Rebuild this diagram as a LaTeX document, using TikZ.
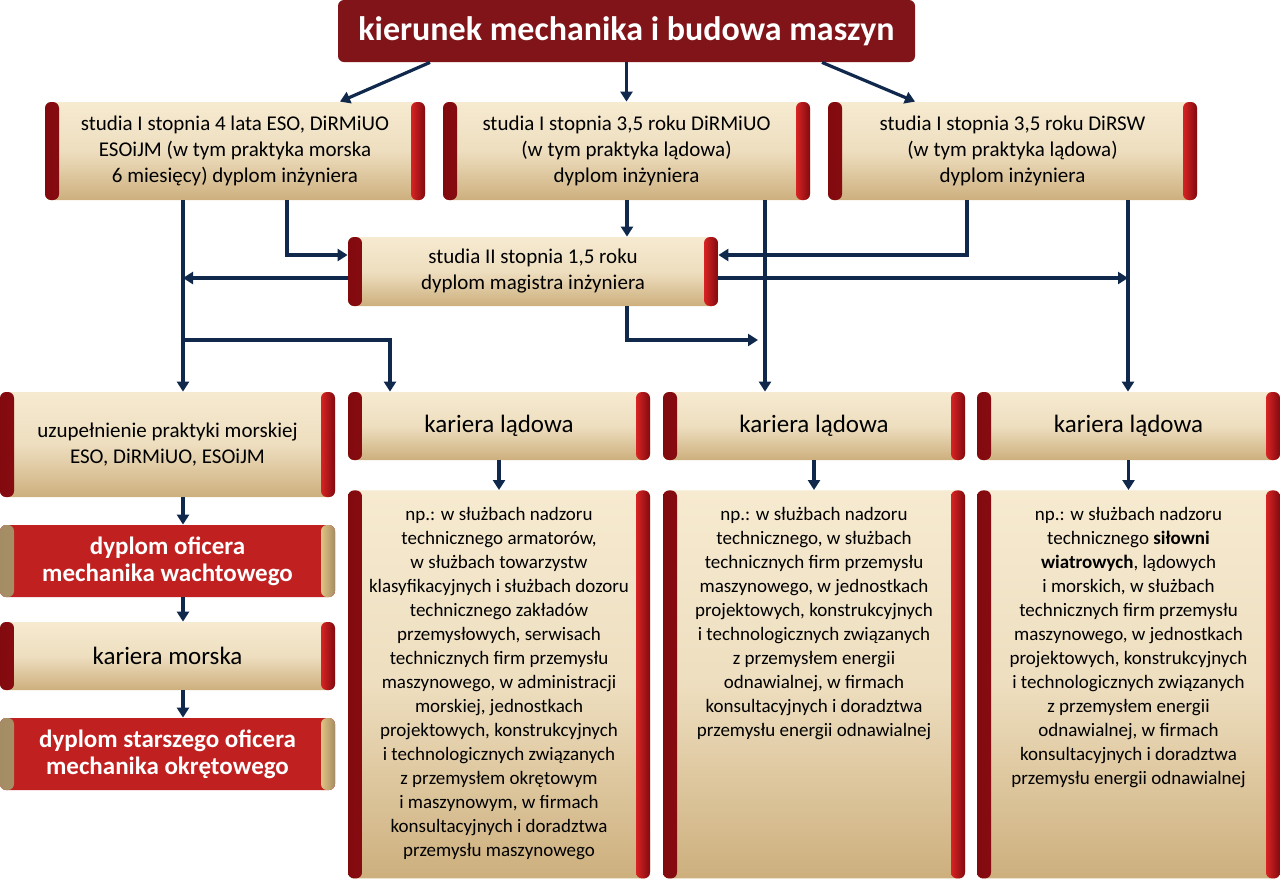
\documentclass[tikz,border=0pt]{standalone}
\usepackage{fontspec}
\setmainfont{Carlito}
\usetikzlibrary{arrows.meta}

\definecolor{capred}{RGB}{215,35,35}
\definecolor{capdark}{RGB}{130,10,15}
\definecolor{tanlight}{RGB}{246,234,208}
\definecolor{tandark}{RGB}{205,175,125}
\definecolor{headred}{RGB}{128,20,25}
\definecolor{navy}{RGB}{15,40,75}
\definecolor{goldcap}{RGB}{225,195,130}

\tikzset{
  box/.style={rectangle, rounded corners=3pt, align=center, inner sep=2pt,
    top color=tanlight, bottom color=tandark, middle color=tanlight!80!tandark,
    path picture={
      \shade[left color=capdark, right color=capred]
        (path picture bounding box.south west) rectangle ([xshift=7pt]path picture bounding box.north west);
      \shade[left color=capred, right color=capdark]
        ([xshift=-7pt]path picture bounding box.south east) rectangle (path picture bounding box.north east);
    }},
  redbox/.style={rectangle, rounded corners=3pt, align=center, inner sep=2pt,
    fill=capred!90!black, text=white, font=\bfseries\fontsize{12.5}{13.5}\selectfont,
    path picture={
      \shade[left color=tandark!80!black, right color=goldcap]
        (path picture bounding box.south west) rectangle ([xshift=7pt]path picture bounding box.north west);
      \shade[left color=goldcap, right color=tandark!80!black]
        ([xshift=-7pt]path picture bounding box.south east) rectangle (path picture bounding box.north east);
    }},
  txt/.style={font=\fontsize{9.5}{12}\selectfont},
  arr/.style={draw=navy, line width=1.6pt, -{Triangle[length=5pt,width=6pt]}},
  ln/.style={draw=navy, line width=1.6pt}
}

\begin{document}
\begin{tikzpicture}[x=0.5pt, y=-0.5pt]
  \useasboundingbox (0,0) rectangle (1280,880);

  % Top
  \node[rectangle, rounded corners=3pt, fill=headred, text=white, font=\bfseries\fontsize{17}{19}\selectfont,
    minimum width=288.5pt, minimum height=31pt] (kier) at (626.5,31) {kierunek mechanika i budowa maszyn};

  % First degree
  \node[box, font=\fontsize{10.5}{13}\selectfont, minimum width=190pt, minimum height=49pt] (s1a) at (235,151)
    {studia I stopnia 4 lata ESO, DiRMiUO\\ESOiJM (w tym praktyka morska\\6 miesięcy) dyplom inżyniera};
  \node[box, font=\fontsize{10.5}{13}\selectfont, minimum width=183.5pt, minimum height=49pt] (s1b) at (626.5,151)
    {studia I stopnia 3,5 roku DiRMiUO\\(w tym praktyka lądowa)\\dyplom inżyniera};
  \node[box, font=\fontsize{10.5}{13}\selectfont, minimum width=184.5pt, minimum height=49pt] (s1c) at (1012.5,151)
    {studia I stopnia 3,5 roku DiRSW\\(w tym praktyka lądowa)\\dyplom inżyniera};

  % Second degree
  \node[box, font=\fontsize{10.5}{13}\selectfont, minimum width=185pt, minimum height=34.5pt] (s2) at (533,271.5)
    {studia II stopnia 1,5 roku\\dyplom magistra inżyniera};

  % Careers
  \node[box, font=\fontsize{10.5}{13}\selectfont, minimum width=167.5pt, minimum height=52.5pt] (uzup) at (167.5,444.5)
    {uzupełnienie praktyki morskiej\\ESO, DiRMiUO, ESOiJM};
  \node[box, font=\fontsize{12.5}{14}\selectfont, minimum width=151pt, minimum height=34pt] (kl1) at (499,426) {kariera lądowa};
  \node[box, font=\fontsize{12.5}{14}\selectfont, minimum width=151pt, minimum height=34pt] (kl2) at (814,426) {kariera lądowa};
  \node[box, font=\fontsize{12.5}{14}\selectfont, minimum width=151.5pt, minimum height=34pt] (kl3) at (1128.5,426) {kariera lądowa};

  \node[redbox, minimum width=167.5pt, minimum height=36pt] (dow) at (167.5,561) {dyplom oficera\\mechanika wachtowego};
  \node[box, font=\fontsize{12.5}{14}\selectfont, minimum width=167.5pt, minimum height=34pt] (km) at (167.5,656) {kariera morska};
  \node[redbox, minimum width=167.5pt, minimum height=36pt] (dso) at (167.5,754) {dyplom starszego oficera\\mechanika okrętowego};

  % Descriptions
  \node[box, anchor=north, minimum width=151pt, minimum height=194pt] (op1) at (499,490) {};
  \node[txt, align=center, anchor=north] at (499,500)
    {np.: w służbach nadzoru\\technicznego armatorów,\\w służbach towarzystw\\klasyfikacyjnych i służbach dozoru\\technicznego zakładów\\przemysłowych, serwisach\\technicznych firm przemysłu\\maszynowego, w administracji\\morskiej, jednostkach\\projektowych, konstrukcyjnych\\i technologicznych związanych\\z przemysłem okrętowym\\i maszynowym, w firmach\\konsultacyjnych i doradztwa\\przemysłu maszynowego};
  \node[box, anchor=north, minimum width=151pt, minimum height=194pt] (op2) at (814,490) {};
  \node[txt, align=center, anchor=north] at (814,500)
    {np.: w służbach nadzoru\\technicznego, w służbach\\technicznych firm przemysłu\\maszynowego, w jednostkach\\projektowych, konstrukcyjnych\\i technologicznych związanych\\z przemysłem energii\\odnawialnej, w firmach\\konsultacyjnych i doradztwa\\przemysłu energii odnawialnej};
  \node[box, anchor=north, minimum width=151.5pt, minimum height=194pt] (op3) at (1128.5,490) {};
  \node[txt, align=center, anchor=north] at (1128.5,500)
    {np.: w służbach nadzoru\\technicznego \textbf{siłowni}\\\textbf{wiatrowych}, lądowych\\i morskich, w służbach\\technicznych firm przemysłu\\maszynowego, w jednostkach\\projektowych, konstrukcyjnych\\i technologicznych związanych\\z przemysłem energii\\odnawialnej, w firmach\\konsultacyjnych i doradztwa\\przemysłu energii odnawialnej};

  % Junctions
  \coordinate (jl) at (183,278);
  \coordinate (jr) at (1128,278);
  \coordinate (jm) at (183,340);
  \coordinate (jk) at (758,340);

  % Connect the nodes
  \draw[arr] (kier.south -| 430,0) -- (s1a.north -| 340,0);
  \draw[arr] (kier) -- (s1b);
  \draw[arr] (kier.south -| 822,0) -- (s1c.north -| 915,0);
  \draw[arr] (s1a.south -| 183,0) -- (uzup.north -| 183,0);
  \draw[arr] (s1a.south -| 287,0) |- (s2.west |- 0,255);
  \draw[arr] (s1b.south -| 627,0) -- (s2.north -| 627,0);
  \draw[arr] (s1b.south -| 765,0) -- (kl2.north -| 765,0);
  \draw[arr] (s1c.south -| 967,0) |- (s2.east |- 0,255);
  \draw[arr] (s1c.south -| 1128,0) -- (kl3.north -| 1128,0);
  \draw[arr] (s2.west |- jl) -- (jl);
  \draw[arr] (s2.east |- jr) -- (jr);
  \draw[arr] (jm) -| (kl1.north -| 390,0);
  \draw[arr] (s2.south -| 627,0) |- (jk);
  \draw[arr] (kl1) -- (op1);
  \draw[arr] (kl2) -- (op2);
  \draw[arr] (kl3) -- (op3);
  \draw[arr] (uzup.south -| 183,0) -- (dow.north -| 183,0);
  \draw[arr] (dow.south -| 183,0) -- (km.north -| 183,0);
  \draw[arr] (km.south -| 183,0) -- (dso.north -| 183,0);

\end{tikzpicture}
\end{document}
